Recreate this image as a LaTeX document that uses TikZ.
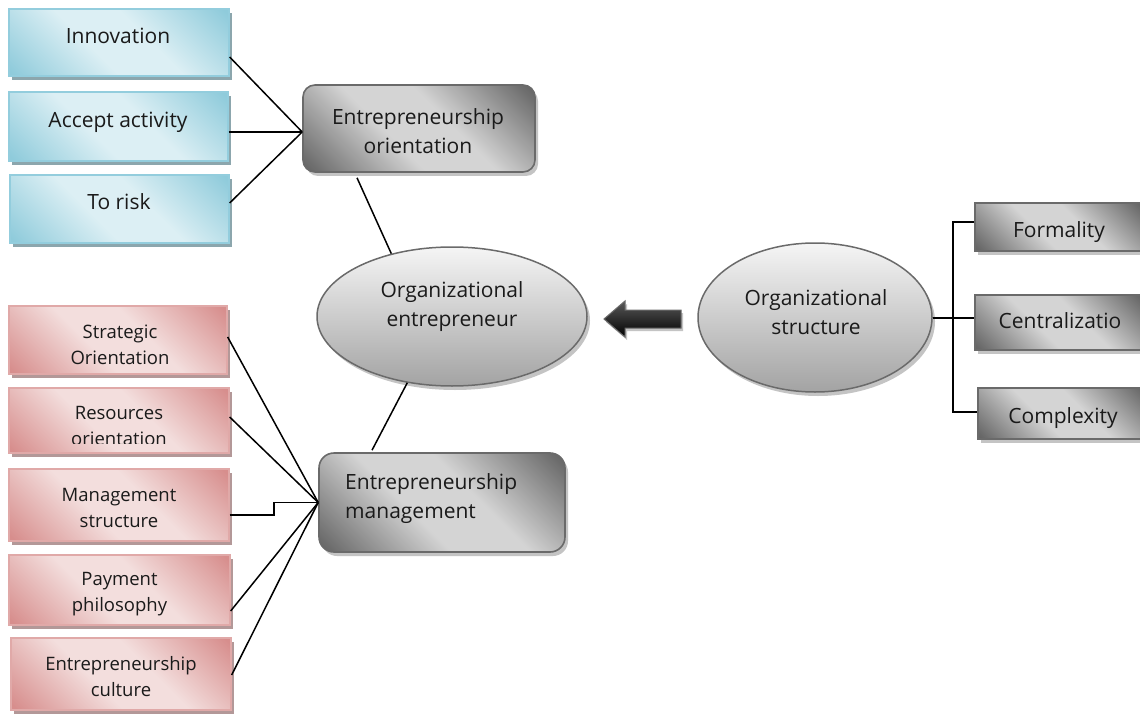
\documentclass[tikz,border=0pt]{standalone}
\usepackage{fontspec}
\setmainfont{Open Sans}
\usetikzlibrary{shapes.geometric,shadows,calc}

% palette
\definecolor{txt}{HTML}{1A1A1A}
\definecolor{gdark}{HTML}{666666}
\definecolor{glight}{HTML}{D4D4D4}
\definecolor{gborder}{HTML}{6A6A6A}
\definecolor{gshadow}{HTML}{C4C4C4}
\definecolor{bdark}{HTML}{8FCBDB}
\definecolor{blight}{HTML}{DCEFF4}
\definecolor{bborder}{HTML}{93CDDD}
\definecolor{bshadow}{HTML}{8CA6AD}
\definecolor{pdark}{HTML}{D78E8D}
\definecolor{plight}{HTML}{F3DEDD}
\definecolor{pborder}{HTML}{E0A9A8}
\definecolor{pshadow}{HTML}{B39898}
\definecolor{etop}{HTML}{F5F5F5}
\definecolor{emid}{HTML}{DDDDDD}
\definecolor{ebot}{HTML}{A3A3A3}

% diagonal two-tone fills: dark corners, light band through the middle
\pgfdeclarehorizontalshading{greydiag}{100bp}{color(0bp)=(gdark); color(16bp)=(gdark); color(42bp)=(glight); color(58bp)=(glight); color(84bp)=(gdark); color(100bp)=(gdark)}
\pgfdeclarehorizontalshading{bluediag}{100bp}{color(0bp)=(bdark); color(16bp)=(bdark); color(42bp)=(blight); color(58bp)=(blight); color(84bp)=(bdark); color(100bp)=(bdark)}
\pgfdeclarehorizontalshading{pinkdiag}{100bp}{color(0bp)=(pdark); color(16bp)=(pdark); color(42bp)=(plight); color(58bp)=(plight); color(84bp)=(pdark); color(100bp)=(pdark)}

\newcommand\fsmain{\fontsize{21}{29}\selectfont}
\newcommand\fspink{\fontsize{18.5}{26}\selectfont}

\begin{document}
\begin{tikzpicture}[x=1pt,y=-1pt,
  panel/.style={rectangle, inner sep=0pt},
  bluebox/.style={panel, draw=bborder, line width=1.3pt, shade, shading=bluediag, shading angle=45,
    drop shadow={shadow xshift=3pt, shadow yshift=-4pt, fill=bshadow, opacity=1}},
  pinkbox/.style={panel, draw=pborder, line width=1.3pt, shade, shading=pinkdiag, shading angle=45,
    drop shadow={shadow xshift=3pt, shadow yshift=-4pt, fill=pshadow, opacity=1}},
  greybox/.style={panel, draw=gborder, line width=1.6pt, shade, shading=greydiag, shading angle=45,
    drop shadow={shadow xshift=3pt, shadow yshift=-4pt, fill=gshadow, opacity=1}},
  oval/.style={ellipse, inner sep=0pt, draw=gborder, line width=1.5pt,
    top color=etop, middle color=emid, bottom color=ebot,
    drop shadow={shadow xshift=3pt, shadow yshift=-4pt, fill=gshadow, opacity=1}},
  lbl/.style={inner sep=0pt, text=txt, font=\fsmain, align=center},
  plbl/.style={inner sep=0pt, text=txt, font=\fspink, align=center},
  link/.style={draw=black, line width=1.5pt},
  bus/.style={draw=black, line width=2pt},
]
\clip (0,0) rectangle (1140,714);
\fill[white] (0,0) rectangle (1140,714);

% ---- entrepreneurship orientation branch (blue) ----
\node[bluebox, minimum width=220pt, minimum height=67pt] (inno) at (119,42.5) {};
\node[bluebox, minimum width=219pt, minimum height=69pt] (acc) at (118.5,126.5) {};
\node[bluebox, minimum width=219pt, minimum height=68pt] (risk) at (119.5,209) {};
\node[lbl, anchor=base] (innot) at (118,43.5) {Innovation};
\node[lbl, anchor=base] (acct) at (118,128) {Accept activity};
\node[lbl, anchor=base] (riskt) at (119,210) {To risk};

\node[greybox, rounded corners=12pt, minimum width=232pt, minimum height=87pt] (eo) at (419,128.5) {};
\node[lbl] (eot) at (418,131) {Entrepreneurship\\orientation};

% ---- entrepreneurship management branch (pink) ----
\node[pinkbox, minimum width=218pt, minimum height=68pt] (so) at (118,340) {};
\node[pinkbox, minimum width=220pt, minimum height=65pt] (ro) at (119,420.5) {};
\node[pinkbox, minimum width=220pt, minimum height=72pt] (ms) at (119,505) {};
\node[pinkbox, minimum width=221pt, minimum height=70pt] (pp) at (119.5,590) {};
\node[pinkbox, minimum width=220pt, minimum height=72pt] (ec) at (121,674) {};
\node[plbl] (sot) at (120,344.5) {Strategic\\Orientation};
\begin{scope}
  \clip (10,389) rectangle (228,443.5);
  \node[plbl] (rot) at (119,425.5) {Resources\\orientation};
\end{scope}
\node[plbl] (mst) at (119,507.5) {Management\\structure};
\node[plbl] (ppt) at (119.5,594) {Payment\\philosophy};
\node[plbl] (ect) at (121,676.5) {Entrepreneurship\\culture};

\node[greybox, rounded corners=15pt, minimum width=246pt, minimum height=99pt] (em) at (442,502.5) {};
\node[lbl, align=left, anchor=west] (emt) at (345,498.5) {Entrepreneurship\\management};

% ---- central concepts ----
\node[oval, minimum width=270pt, minimum height=139pt] (oe) at (452,316.5) {};
\node[lbl] (oet) at (452,307) {Organizational\\entrepreneur};

\node[oval, minimum width=234pt, minimum height=149pt] (os) at (815,317.5) {};
\node[lbl] (ost) at (816,312) {Organizational\\structure};

% block arrow pointing from structure to entrepreneur
\path[draw=gborder, line width=1pt, top color=black!65, middle color=black, bottom color=black,
  drop shadow={shadow xshift=2pt, shadow yshift=-3pt, fill=gshadow, opacity=1}]
  (604,319) -- (625,301) -- (625,310) -- (681,310) -- (681,328) -- (625,328) -- (625,337) -- cycle;

% ---- organizational structure dimensions ----
\node[greybox, minimum width=168pt, minimum height=48pt] (fo) at (1059,227) {};
\node[greybox, minimum width=168pt, minimum height=55pt] (ce) at (1059,322.5) {};
\node[greybox, minimum width=168pt, minimum height=51pt] (cx) at (1062,413.5) {};
\node[lbl, anchor=base] (fot) at (1059,237) {Formality};
\node[lbl, anchor=base] (cet) at (1060,328.5) {Centralizatio};
\node[lbl, anchor=base] (cxt) at (1063,423) {Complexity};

% ---- connectors ----
\coordinate (eohub) at ([yshift=-3.5pt]eo.west);
\draw[link] ([yshift=-14.5pt]inno.east) -- (eohub);
\draw[link] ([yshift=-5.5pt]acc.east) -- (eohub);
\draw[link] ([yshift=6pt]risk.east) -- (eohub);

\draw[link] ([xshift=-62pt,yshift=-5pt]eo.south) -- (oe.134);
\draw[link] (oe.236) -- ([xshift=-70pt,yshift=2pt]em.north);

\coordinate (emhub) at (em.west);
\draw[link] ([yshift=3pt]so.east) -- (emhub);
\draw[link] ([yshift=3.5pt]ro.east) -- (emhub);
\coordinate (msout) at ([yshift=-10pt]ms.east);
\coordinate (msbend) at ($(msout)!0.5!(emhub)$);
\draw[link] (msout) -| (msbend) |- (emhub);
\draw[link] ([yshift=-21pt]pp.east) -- (emhub);
\draw[link] ([yshift=-1pt]ec.east) -- (emhub);

\coordinate (osbus) at ([xshift=20pt]os.east);
\draw[bus] (os.east) -- (os.east -| ce.west);
\draw[bus] ([yshift=5pt]fo.west) -| (osbus) |- ([yshift=1.5pt]cx.west);
\end{tikzpicture}
\end{document}
